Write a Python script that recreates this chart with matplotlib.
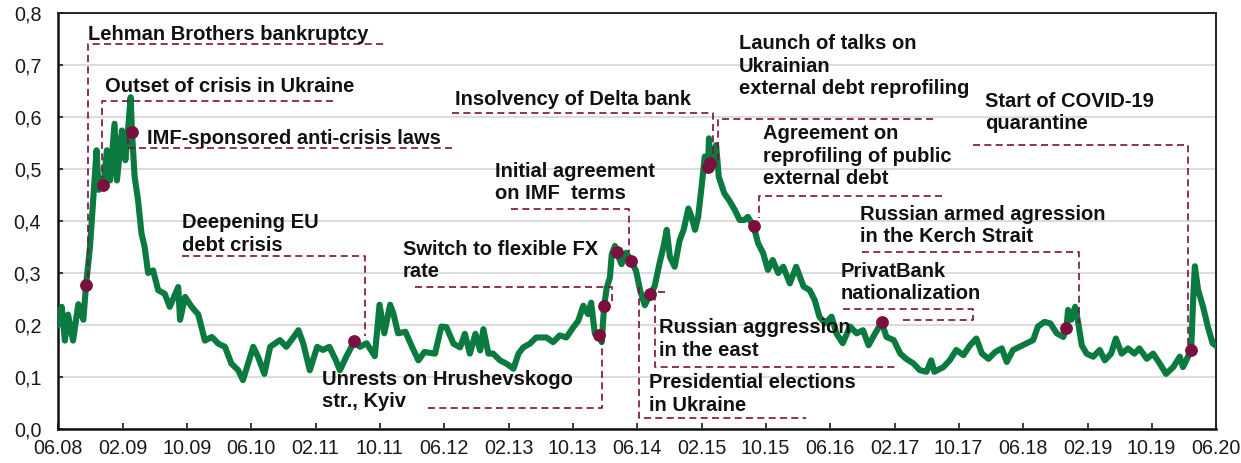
import pandas as pd
import numpy as np
import matplotlib
matplotlib.use("Agg")
import matplotlib.pyplot as plt
from matplotlib import transforms

# series
dates = [
    "2008-06-01", "2008-06-15", "2008-06-27", "2008-07-09", "2008-07-28", "2008-08-17", "2008-09-05", "2008-09-15",
    "2008-09-30", "2008-10-13", "2008-10-25", "2008-11-02", "2008-11-20", "2008-12-03", "2008-12-15",
    "2009-01-01", "2009-01-10", "2009-01-29", "2009-02-11", "2009-02-23", "2009-03-03", "2009-03-08", "2009-03-18",
    "2009-03-31", "2009-04-13", "2009-04-25", "2009-05-08", "2009-05-27", "2009-06-15", "2009-07-10", "2009-07-29",
    "2009-08-30", "2009-09-06", "2009-09-25", "2009-10-20", "2009-11-14", "2009-12-09",
    "2010-01-04", "2010-01-29", "2010-02-23", "2010-03-19", "2010-04-14", "2010-05-02", "2010-06-10", "2010-06-28",
    "2010-07-22", "2010-08-13", "2010-09-19", "2010-10-13", "2010-11-10", "2010-11-28", "2010-12-16",
    "2011-01-10", "2011-02-07", "2011-03-01", "2011-03-25", "2011-04-19", "2011-05-04", "2011-05-28", "2011-06-28",
    "2011-07-19", "2011-08-13", "2011-09-13", "2011-10-01", "2011-10-19", "2011-11-10", "2011-11-22", "2011-12-10",
    "2012-01-07", "2012-02-01", "2012-02-25", "2012-03-19", "2012-04-28", "2012-05-22", "2012-06-10", "2012-07-07",
    "2012-08-01", "2012-08-19", "2012-09-07", "2012-09-28", "2012-10-16", "2012-10-28", "2012-11-16", "2012-12-04",
    "2012-12-30",
    "2013-01-25", "2013-02-19", "2013-03-10", "2013-03-28", "2013-04-22", "2013-05-16", "2013-06-24", "2013-07-19",
    "2013-08-13", "2013-09-07", "2013-10-04", "2013-10-22", "2013-11-10", "2013-11-28", "2013-12-10", "2013-12-24",
    "2014-01-10", "2014-01-19", "2014-01-28", "2014-02-07", "2014-02-19", "2014-02-26", "2014-03-10", "2014-03-16",
    "2014-04-04", "2014-04-22", "2014-05-10", "2014-05-29", "2014-06-13", "2014-07-01", "2014-07-22", "2014-08-07",
    "2014-08-26", "2014-09-10", "2014-09-22", "2014-10-04", "2014-10-22", "2014-11-10", "2014-11-25", "2014-12-13",
    "2014-12-25",
    "2015-01-07", "2015-01-19", "2015-02-01", "2015-02-13", "2015-02-25", "2015-03-01", "2015-03-05", "2015-03-16",
    "2015-03-28", "2015-04-07", "2015-04-28", "2015-05-16", "2015-06-07", "2015-06-25", "2015-07-13", "2015-07-26",
    "2015-08-17", "2015-09-03", "2015-09-22", "2015-10-10", "2015-10-28", "2015-11-18", "2015-12-07",
    "2016-01-01", "2016-01-25", "2016-02-22", "2016-03-16", "2016-04-04", "2016-04-22", "2016-05-13", "2016-06-07",
    "2016-06-25", "2016-07-19", "2016-08-16", "2016-09-10", "2016-10-04", "2016-10-25", "2016-11-19", "2016-12-13",
    "2017-01-01", "2017-01-28", "2017-02-22", "2017-03-16", "2017-04-13", "2017-05-07", "2017-06-01", "2017-06-19",
    "2017-07-01", "2017-08-04", "2017-08-28", "2017-09-22", "2017-10-19", "2017-11-13", "2017-12-07", "2017-12-28",
    "2018-01-22", "2018-02-16", "2018-03-13", "2018-04-01", "2018-04-25", "2018-05-19", "2018-06-16", "2018-07-10",
    "2018-07-28", "2018-08-22", "2018-09-13", "2018-10-07", "2018-11-01", "2018-11-13", "2018-11-19", "2018-12-01",
    "2018-12-16", "2018-12-28",
    "2019-01-10", "2019-01-28", "2019-02-22", "2019-03-19", "2019-04-07", "2019-05-01", "2019-05-19", "2019-06-10",
    "2019-07-04", "2019-07-28", "2019-08-16", "2019-09-13", "2019-10-07", "2019-11-01", "2019-11-25", "2019-12-22",
    "2020-01-16", "2020-01-28", "2020-02-16", "2020-02-28", "2020-03-07", "2020-03-13", "2020-03-25", "2020-04-13",
    "2020-05-01", "2020-05-19", "2020-06-01",
]
values = [
    0.20, 0.235, 0.17, 0.22, 0.17, 0.24, 0.21, 0.276, 0.35, 0.446, 0.536, 0.46, 0.47, 0.536, 0.478,
    0.587, 0.478, 0.574, 0.517, 0.587, 0.638, 0.571, 0.485, 0.44, 0.376, 0.35, 0.30, 0.305, 0.267, 0.26, 0.235,
    0.273, 0.21, 0.254, 0.235, 0.22, 0.17,
    0.177, 0.164, 0.158, 0.126, 0.113, 0.094, 0.158, 0.139, 0.106, 0.158, 0.171, 0.158, 0.177, 0.19, 0.165,
    0.113, 0.158, 0.152, 0.158, 0.132, 0.113, 0.139, 0.169, 0.158, 0.165, 0.14, 0.239, 0.184, 0.239, 0.223, 0.184,
    0.187, 0.158, 0.132, 0.148, 0.145, 0.197, 0.196, 0.164, 0.157, 0.183, 0.145, 0.183, 0.151, 0.192, 0.145, 0.145,
    0.132,
    0.125, 0.116, 0.145, 0.157, 0.164, 0.176, 0.176, 0.167, 0.18, 0.176, 0.196, 0.208, 0.237, 0.221, 0.243, 0.183,
    0.18, 0.167, 0.236, 0.272, 0.291, 0.336, 0.352, 0.34, 0.317, 0.339, 0.324, 0.304, 0.267, 0.238, 0.26, 0.274,
    0.319, 0.351, 0.383, 0.331, 0.312, 0.363, 0.383, 0.424, 0.408,
    0.383, 0.408, 0.466, 0.524, 0.503, 0.559, 0.511, 0.53, 0.546, 0.485, 0.453, 0.44, 0.421, 0.402, 0.402, 0.408,
    0.39, 0.357, 0.338, 0.306, 0.325, 0.30, 0.312,
    0.28, 0.312, 0.274, 0.267, 0.248, 0.216, 0.203, 0.216, 0.184, 0.165, 0.197, 0.184, 0.19, 0.161, 0.184, 0.205,
    0.177, 0.171, 0.145, 0.135, 0.126, 0.113, 0.11, 0.132, 0.11, 0.119, 0.132, 0.152, 0.142, 0.161, 0.174, 0.145,
    0.135, 0.148, 0.155, 0.129, 0.152, 0.158, 0.165, 0.171, 0.197, 0.206, 0.203, 0.184, 0.177, 0.194, 0.229, 0.21,
    0.235, 0.203,
    0.161, 0.145, 0.139, 0.152, 0.132, 0.145, 0.174, 0.145, 0.155, 0.145, 0.155, 0.135, 0.145, 0.126, 0.106, 0.119,
    0.139, 0.119, 0.139, 0.152, 0.255, 0.313, 0.268, 0.235, 0.197, 0.165, 0.16,
]

# event markers
event_dates = ["2008-09-15", "2008-11-20", "2009-03-08", "2011-06-28", "2014-01-10", "2014-01-28", "2014-03-16",
               "2014-05-10", "2014-07-22", "2015-02-25", "2015-03-05", "2015-08-17", "2016-12-13", "2018-11-13",
               "2020-02-28"]
event_values = [0.276, 0.47, 0.571, 0.169, 0.18, 0.236, 0.34, 0.324, 0.26, 0.503, 0.511, 0.39, 0.205, 0.194, 0.152]

# annotation text lines, x (axes fraction), first baseline (data), leader path [(x frac, y data)]
notes = [
    (["Lehman Brothers bankruptcy"], 0.026, 0.749, [(0.281, 0.740), (0.026, 0.740), (0.026, 0.287)]),
    (["Outset of crisis in Ukraine"], 0.041, 0.648, [(0.2375, 0.631), (0.038, 0.631), (0.038, 0.482)]),
    (["IMF-sponsored anti-crisis laws"], 0.077, 0.548, [(0.340, 0.540), (0.0604, 0.540), (0.0604, 0.572)]),
    (["Deepening EU", "debt crisis"], 0.107, 0.386, [(0.107, 0.333), (0.265, 0.333), (0.265, 0.179)]),
    (["Unrests on Hrushevskogo", "str., Kyiv"], 0.228, 0.085,
     [(0.3195, 0.040), (0.4698, 0.040), (0.4698, 0.171), (0.475, 0.171)]),
    (["Switch to flexible FX", "rate"], 0.298, 0.335, [(0.308, 0.274), (0.4784, 0.274), (0.4784, 0.245)]),
    (["Initial agreement", "on IMF  terms"], 0.3774, 0.485, [(0.391, 0.4225), (0.4931, 0.4225), (0.4931, 0.34)]),
    (["Russian aggression", "in the east"], 0.519, 0.184,
     [(0.5242, 0.264), (0.5155, 0.264), (0.5155, 0.119), (0.7228, 0.119)]),
    (["Presidential elections", "in Ukraine"], 0.5104, 0.078, [(0.5017, 0.274), (0.5017, 0.022), (0.6459, 0.022)]),
    (["Insolvency of Delta bank"], 0.3428, 0.623, [(0.3402, 0.608), (0.5656, 0.608), (0.5656, 0.517)]),
    (["Launch of talks on", "Ukrainian", "external debt reprofiling"], 0.5881, 0.73,
     [(0.7556, 0.596), (0.5699, 0.596), (0.5699, 0.517)]),
    (["Agreement on", "reprofiling of public", "external debt"], 0.6088, 0.557,
     [(0.7634, 0.448), (0.6054, 0.448), (0.6054, 0.405)]),
    (["Russian armed agression", "in the Kerch Strait"], 0.6926, 0.402,
     [(0.6943, 0.34), (0.8817, 0.34), (0.8817, 0.204)]),
    (["PrivatBank", "nationalization"], 0.6762, 0.293,
     [(0.6779, 0.231), (0.7902, 0.231), (0.7902, 0.2105), (0.7271, 0.2105)]),
    (["Start of COVID-19", "quarantine"], 0.8005, 0.62, [(0.7902, 0.547), (0.9758, 0.547), (0.9758, 0.162)]),
]

green = "#0A7A40"
maroon = "#7B0F3E"

plt.rcParams["font.family"] = ["Liberation Sans", "DejaVu Sans"]

fig = plt.figure(figsize=(12.41, 4.63), dpi=100)
ax = fig.add_axes([58 / 1241, 1 - 429 / 463, 1158 / 1241, 416 / 463])

x = pd.to_datetime(dates)
ax.plot(x, values, color=green, lw=4.4, solid_joinstyle="round", solid_capstyle="round", zorder=3)
ax.plot(pd.to_datetime(event_dates), event_values, "o", color=maroon, ms=8.2, mec=maroon, zorder=5)

ax.set_xlim(pd.Timestamp("2008-06-01"), pd.Timestamp("2020-06-01"))
ax.set_ylim(0, 0.8)

ticks = pd.date_range("2008-06-01", "2020-06-01", freq="8MS")
ax.set_xticks(ticks)
ax.set_xticklabels([t.strftime("%m.%y") for t in ticks])
yt = np.arange(0, 0.81, 0.1)
ax.set_yticks(yt)
ax.set_yticklabels([f"{v:.1f}".replace(".", ",") for v in yt])

ax.grid(axis="y", color="#D9D9D9", lw=1.3, zorder=0)
ax.set_axisbelow(True)
ax.tick_params(axis="x", direction="in", length=4.5, width=1.2, pad=7, labelsize=14.2, colors="#1a1a1a")
ax.tick_params(axis="y", direction="in", length=3.6, width=1.2, pad=12, labelsize=14.2, colors="#1a1a1a")
for side in ["left", "bottom"]:
    ax.spines[side].set_linewidth(1.8)
    ax.spines[side].set_color("#111111")
for side in ["top", "right"]:
    ax.spines[side].set_linewidth(1.4)
    ax.spines[side].set_color("#222222")

trans = transforms.blended_transform_factory(ax.transAxes, ax.transData)
for lines, tx, ty, path in notes:
    for i, line in enumerate(lines):
        ax.text(tx, ty - i * 0.043, line, transform=trans, ha="left", va="baseline",
                fontsize=14.5, fontweight="bold", color="#111111", zorder=6)
    px, py = zip(*path)
    ax.plot(px, py, transform=trans, color=maroon, lw=1.2, ls=(0, (4.2, 2.6)), zorder=4, clip_on=False)

fig.savefig("out.png", dpi=100)
